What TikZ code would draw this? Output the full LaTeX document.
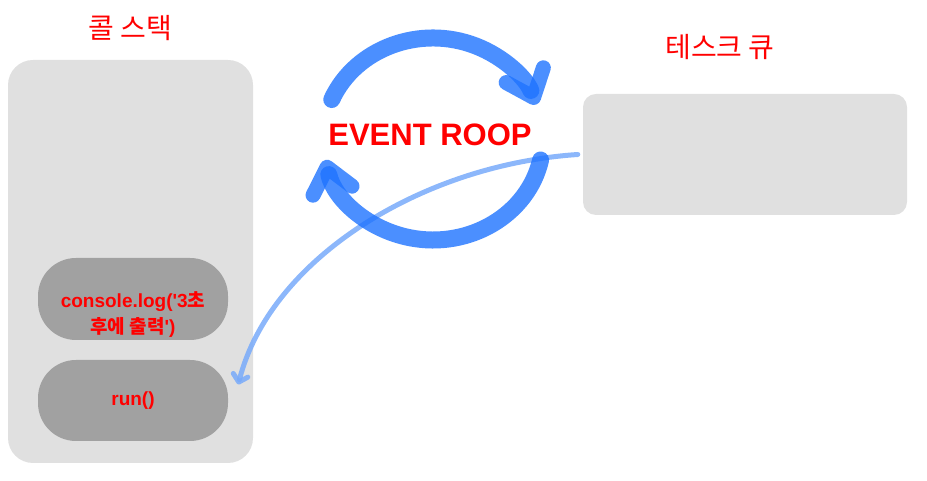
\documentclass[tikz,border=0pt]{standalone}
\usepackage{fontspec}
\setmainfont{Liberation Sans}
\newfontfamily\kr{Noto Sans CJK KR}
\usetikzlibrary{arrows.meta}
\usetikzlibrary{positioning}
\definecolor{stackGray}{RGB}{224,224,224}
\definecolor{funcGray}{RGB}{161,161,161}
\definecolor{loopBlue}{RGB}{30,115,255}
\definecolor{pathBlue}{RGB}{120,170,250}
\definecolor{labelRed}{RGB}{255,0,0}
\tikzset{
    boxColor/.style={
    ,   fill=stackGray
    ,   draw=none
    },
    callStack/.style={
    ,   rectangle
    ,   rounded corners=25pt
    ,   boxColor
    ,   minimum width=245pt
    ,   minimum height=403pt
    },
    taskQueue/.style={
    ,   rectangle
    ,   rounded corners=13pt
    ,   boxColor
    ,   minimum width=324pt
    ,   minimum height=121pt
    },
    funcBox/.style={
    ,   rectangle
    ,   rounded corners=38pt
    ,   fill=funcGray
    ,   draw=none
    ,   minimum width=190pt
    ,   minimum height=#1
    ,   funcText
    },
    funcText/.style={
    ,   text=labelRed
    ,   font=\fontsize{19pt}{26pt}\selectfont\bfseries
    ,   align=center
    },
    title/.style={
    ,   text=labelRed
    ,   font=\fontsize{28pt}{30pt}\selectfont\kr
    },
    loopArrow/.style={
    ,   draw=loopBlue
    ,   draw opacity=0.8
    ,   line width=17pt
    ,   line cap=round
    ,   -{Straight Barb[round, length=24pt, width=40pt, line width=15pt]}
    },
    moveArrow/.style={
    ,   draw=pathBlue
    ,   draw opacity=0.85
    ,   line width=5pt
    ,   line cap=round
    ,   -{Straight Barb[round, length=7pt, width=15pt, line width=5pt]}
    }
}

\begin{document}
\begin{tikzpicture}[x=1pt, y=1pt]
\useasboundingbox (0,0) rectangle (927,481);

% call stack
\node[callStack] (stack) at (130.5,219.5) {};
\node[title] (stackTitle) at (130,453) {콜 스택};
\node[funcBox=82pt] (logCall) at (133,182) {};
\node[funcText] (logText) at (133,166)
    {console.log(\textquotesingle 3{\kr 초}\\{\kr 후에 출력}\textquotesingle )};
\node[funcBox=81pt] (run) at (133,80.5) {\raisebox{-3pt}{run()}};

% task queue
\node[taskQueue] (queue) at (745,326.5) {};
\node[title] (queueTitle) at (720,434) {테스크 큐};

% queue -> stack
\coordinate (runTip) at ([shift={(10pt,16pt)}]run.east);
\draw[moveArrow] ([xshift=-5pt]queue.west) .. controls (420,316) and (270,221) .. (runTip);

% event loop
\coordinate (loopC) at (433,342);
\draw[loopArrow] ([shift={(157:110 and 101)}]loopC) arc [start angle=157, end angle=20, x radius=110, y radius=101];
\draw[loopArrow] ([shift={(-12:110 and 101)}]loopC) arc [start angle=-12, end angle=-168, x radius=110, y radius=101];
\node[text=labelRed, font=\fontsize{31pt}{33pt}\selectfont\bfseries] (loopText) at (430,346) {EVENT ROOP};
\end{tikzpicture}
\end{document}
